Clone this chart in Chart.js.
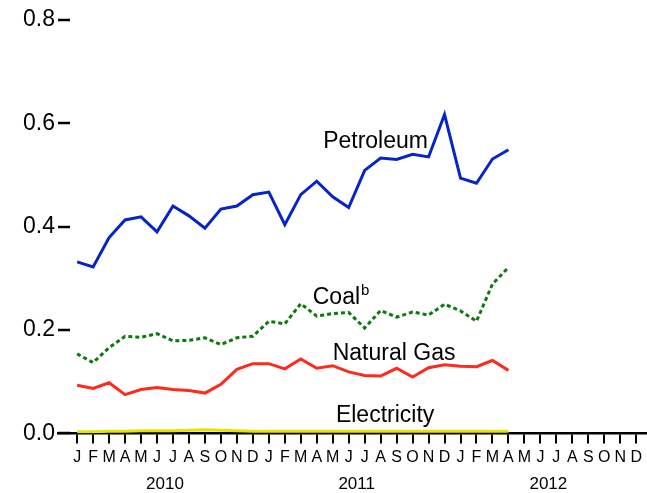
<!DOCTYPE html>
<html>
<head>
<meta charset="utf-8">
<script src="https://cdn.jsdelivr.net/npm/chart.js@4.4.1/dist/chart.umd.min.js"></script>
<style>
  html, body { margin: 0; padding: 0; background: #fff; }
  #wrap { width: 647px; height: 493px; }
</style>
</head>
<body>
<div id="wrap"><canvas id="c" width="647" height="493"></canvas></div>
<script>
// ---- Data (Jan 2010 .. Apr 2012) ----
const monthLabels = ["J","F","M","A","M","J","J","A","S","O","N","D",
                     "J","F","M","A","M","J","J","A","S","O","N","D",
                     "J","F","M","A","M","J","J","A","S","O","N","D"];
const yearLabels = ["2010", "2011", "2012"];
const yTicks = [0, 0.2, 0.4, 0.6, 0.8];

const petroleum = [0.332, 0.322, 0.379, 0.413, 0.419, 0.390, 0.440, 0.421, 0.397, 0.434, 0.440, 0.462,
                   0.467, 0.404, 0.462, 0.488, 0.458, 0.437, 0.509, 0.533, 0.530, 0.540, 0.535, 0.617,
                   0.494, 0.484, 0.531, 0.549];
const coal = [0.154, 0.137, 0.166, 0.188, 0.186, 0.193, 0.179, 0.180, 0.185, 0.172, 0.185, 0.188,
              0.217, 0.212, 0.251, 0.227, 0.232, 0.234, 0.204, 0.238, 0.225, 0.235, 0.229, 0.250,
              0.237, 0.217, 0.289, 0.321];
const naturalGas = [0.093, 0.087, 0.098, 0.075, 0.085, 0.089, 0.085, 0.083, 0.078, 0.095, 0.124, 0.135,
                    0.135, 0.125, 0.144, 0.126, 0.131, 0.119, 0.112, 0.111, 0.126, 0.109, 0.127, 0.133,
                    0.130, 0.129, 0.141, 0.122];
const electricity = [0.003, 0.003, 0.004, 0.004, 0.005, 0.005, 0.005, 0.006, 0.007, 0.006, 0.005, 0.004,
                     0.004, 0.004, 0.004, 0.004, 0.004, 0.004, 0.004, 0.004, 0.004, 0.004, 0.004, 0.004,
                     0.004, 0.004, 0.004, 0.004];

const seriesNames = ["Petroleum", "Coal", "Natural Gas", "Electricity"];

// label anchor positions in data space (left x index, y value)
const seriesLabelPos = [
  { text: "Petroleum",   x: 15.4, y: 0.565 },
  { text: "Coal",        x: 14.75, y: 0.262, sup: "b" },
  { text: "Natural Gas", x: 16.0, y: 0.155 },
  { text: "Electricity", x: 16.2, y: 0.035 }
];

const FONT = '"Liberation Sans", Arial, Helvetica, sans-serif';
const toPts = arr => arr.map((v, i) => ({ x: i, y: v }));

const yearPos = [5.5, 17.5, 29.5];

const decorPlugin = {
  id: 'decor',
  afterDraw(chart) {
    const ctx = chart.ctx;
    const xs = chart.scales.x, ys = chart.scales.y;
    const ca = chart.chartArea;
    ctx.save();
    // y tick dashes
    ctx.strokeStyle = '#000';
    ctx.lineWidth = 2.5;
    yTicks.forEach(t => {
      const py = Math.round(ys.getPixelForValue(t));
      ctx.beginPath();
      ctx.moveTo(ca.left, py);
      ctx.lineTo(ca.left + 12, py);
      ctx.stroke();
    });
    // series labels
    ctx.fillStyle = '#000';
    ctx.textBaseline = 'middle';
    ctx.textAlign = 'left';
    seriesLabelPos.forEach(l => {
      const px = xs.getPixelForValue(l.x);
      const py = ys.getPixelForValue(l.y);
      ctx.font = '23px ' + FONT;
      ctx.fillText(l.text, px, py);
      if (l.sup) {
        const w = ctx.measureText(l.text).width;
        ctx.font = '15px ' + FONT;
        ctx.fillText(l.sup, px + w + 1, py - 7);
      }
    });
    ctx.restore();
  }
};

new Chart(document.getElementById('c'), {
  type: 'line',
  data: {
    datasets: [
      { label: seriesNames[0], data: toPts(petroleum), borderColor: '#0624c8', borderWidth: 3, pointRadius: 0, tension: 0 },
      { label: seriesNames[1], data: toPts(coal), borderColor: '#0a7a0a', borderWidth: 3, borderDash: [4, 3], pointRadius: 0, tension: 0 },
      { label: seriesNames[2], data: toPts(naturalGas), borderColor: '#ff2a1e', borderWidth: 3, pointRadius: 0, tension: 0 },
      { label: seriesNames[3], data: toPts(electricity), borderColor: '#e4e400', borderWidth: 3, pointRadius: 0, tension: 0 }
    ]
  },
  options: {
    responsive: false,
    animation: false,
    devicePixelRatio: 1,
    layout: { padding: { top: 20, right: 0, left: 20, bottom: 4 } },
    plugins: { legend: { display: false }, tooltip: { enabled: false } },
    scales: {
      x: {
        type: 'linear',
        position: 'bottom',
        min: -1.2,
        max: 35.6,
        afterBuildTicks: s => { s.ticks = monthLabels.map((m, i) => ({ value: i })); },
        ticks: {
          autoSkip: false, maxRotation: 0, padding: 5,
          color: '#000', font: { family: FONT, size: 16 },
          callback: v => monthLabels[v]
        },
        grid: { drawOnChartArea: false, drawTicks: true, tickLength: 10, color: '#000', lineWidth: 2 },
        border: { display: true, color: '#000', width: 2.5 }
      },
      x2: {
        type: 'linear',
        position: 'bottom',
        min: -1.2,
        max: 35.6,
        afterBuildTicks: s => { s.ticks = yearPos.map(p => ({ value: p })); },
        ticks: {
          autoSkip: false, maxRotation: 0, padding: -6,
          color: '#000', font: { family: FONT, size: 17 },
          callback: (v, i) => yearLabels[i]
        },
        grid: { display: false },
        border: { display: false }
      },
      y: {
        min: 0, max: 0.8,
        afterBuildTicks: s => { s.ticks = yTicks.map(v => ({ value: v })); },
        ticks: {
          padding: 3, color: '#000', font: { family: FONT, size: 23 },
          callback: v => v.toFixed(1)
        },
        grid: { display: false, drawTicks: false },
        border: { display: false }
      }
    }
  },
  plugins: [decorPlugin]
});
</script>
</body>
</html>
